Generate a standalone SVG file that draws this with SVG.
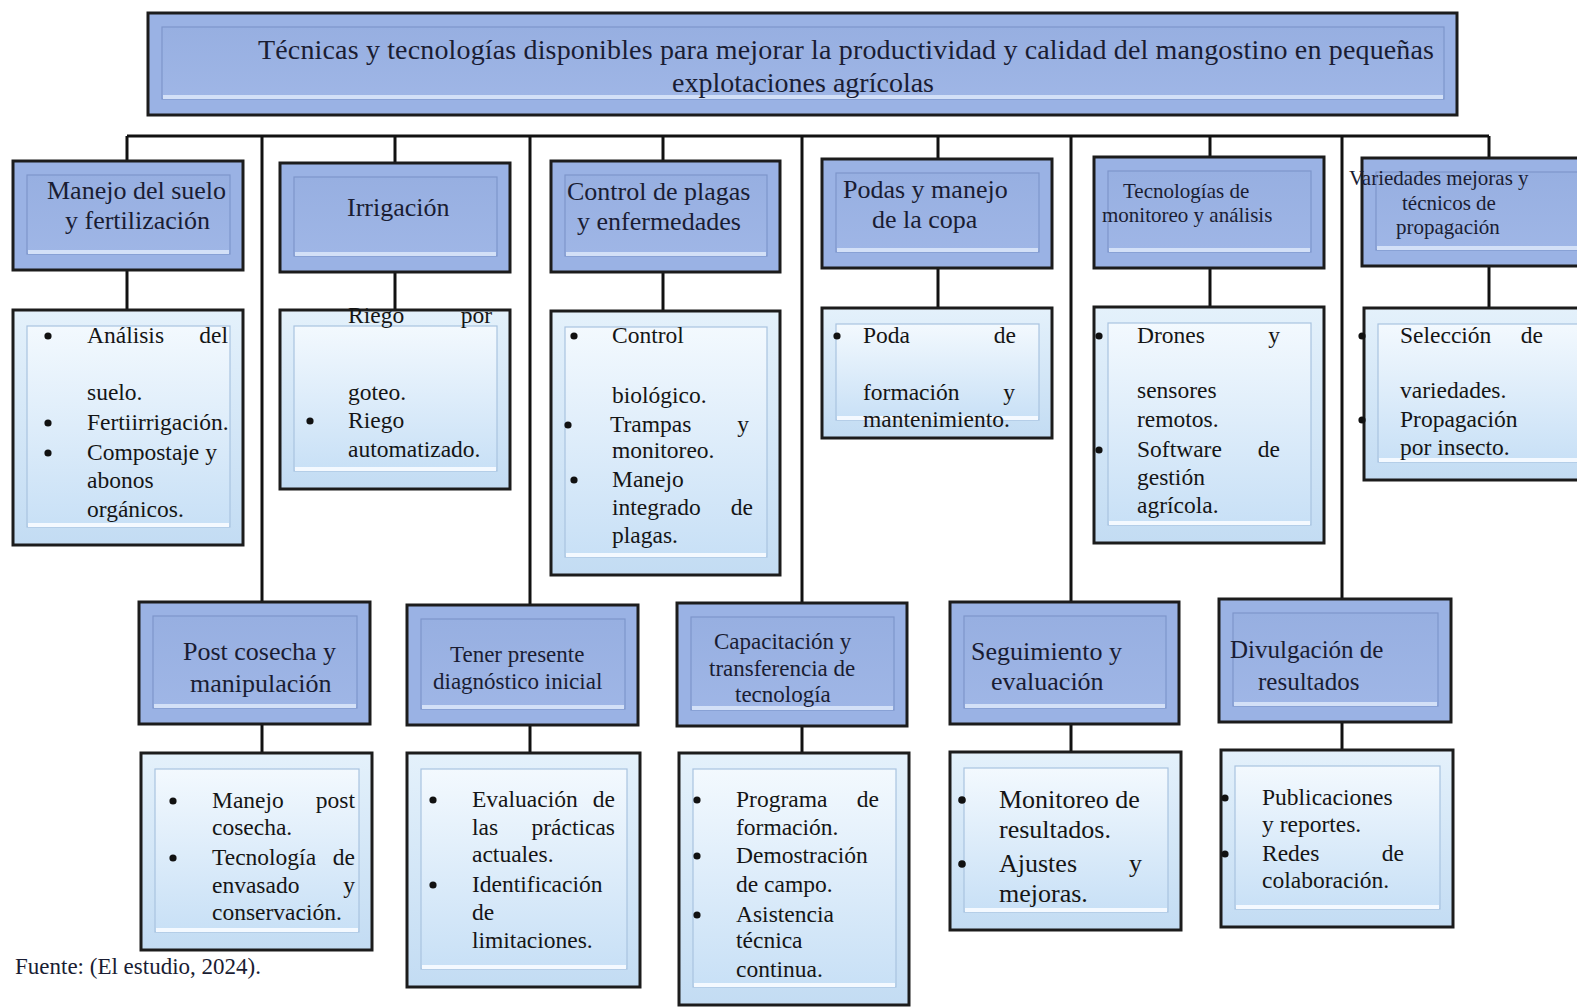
<svg xmlns="http://www.w3.org/2000/svg" width="1577" height="1007" viewBox="0 0 1577 1007">
<defs>
<linearGradient id="hdG" x1="0" y1="0" x2="0" y2="1">
<stop offset="0" stop-color="#97afe1"/>
<stop offset="1" stop-color="#9fb6e6"/>
</linearGradient>
<linearGradient id="dtG" x1="0" y1="0" x2="0" y2="1">
<stop offset="0" stop-color="#f3f9fe"/>
<stop offset="1" stop-color="#c8e0f6"/>
</linearGradient>
<linearGradient id="dtO" x1="0" y1="0" x2="0" y2="1">
<stop offset="0" stop-color="#e4f1fb"/>
<stop offset="1" stop-color="#c3dcf3"/>
</linearGradient>
<style>
.hdo{fill:#9ab2e4;stroke:#1c1c1c;stroke-width:3}
.hdi{fill:url(#hdG);stroke:#7e96cb;stroke-width:1.2}
.hl{stroke:#d3e0f7;stroke-width:4}
.dto{fill:url(#dtO);stroke:#1c1c1c;stroke-width:3}
.dti{fill:url(#dtG);stroke:#a9c3e0;stroke-width:1.2}
.dhl{stroke:#f4f9ff;stroke-width:4}
.cn{stroke:#111;stroke-width:3;fill:none}
.bu{fill:#111}
text{font-family:"Liberation Serif","Times New Roman",serif;fill:#1a1d33}
.h26{font-size:26px}
.h25{font-size:25px}
.h23{font-size:23px}
.h21{font-size:21px}
.d{font-size:23.5px;fill:#151515}
.d26{font-size:26px;fill:#151515}
.e{text-anchor:end}
</style>
</defs>
<rect width="1577" height="1007" fill="#ffffff"/>

<g id="connectors">
<line class="cn" x1="127" y1="136" x2="1489" y2="136"/>
<line class="cn" x1="127" y1="136" x2="127" y2="161"/>
<line class="cn" x1="395" y1="136" x2="395" y2="163"/>
<line class="cn" x1="663" y1="136" x2="663" y2="161"/>
<line class="cn" x1="938" y1="136" x2="938" y2="159"/>
<line class="cn" x1="1210" y1="136" x2="1210" y2="157"/>
<line class="cn" x1="1489" y1="136" x2="1489" y2="158"/>
<line class="cn" x1="127" y1="270" x2="127" y2="310"/>
<line class="cn" x1="395" y1="272" x2="395" y2="310"/>
<line class="cn" x1="663" y1="272" x2="663" y2="311"/>
<line class="cn" x1="938" y1="268" x2="938" y2="308"/>
<line class="cn" x1="1210" y1="268" x2="1210" y2="307"/>
<line class="cn" x1="1489" y1="266" x2="1489" y2="308"/>
<line class="cn" x1="262" y1="136" x2="262" y2="602"/>
<line class="cn" x1="530" y1="136" x2="530" y2="605"/>
<line class="cn" x1="802" y1="136" x2="802" y2="603"/>
<line class="cn" x1="1071" y1="136" x2="1071" y2="602"/>
<line class="cn" x1="1342" y1="136" x2="1342" y2="599"/>
<line class="cn" x1="262" y1="724" x2="262" y2="753"/>
<line class="cn" x1="530" y1="725" x2="530" y2="753"/>
<line class="cn" x1="802" y1="726" x2="802" y2="753"/>
<line class="cn" x1="1071" y1="724" x2="1071" y2="752"/>
<line class="cn" x1="1342" y1="722" x2="1342" y2="750"/>
</g>

<g id="title">
<rect class="hdo" x="148" y="13" width="1309" height="102"/>
<rect class="hdi" x="162" y="27" width="1282" height="72"/>
<line class="hl" x1="163" y1="97" x2="1443" y2="97"/>
<text x="258" y="59" font-size="28" textLength="1176" lengthAdjust="spacing">Técnicas  y tecnologías disponibles para mejorar  la productividad y calidad del mangostino  en pequeñas</text>
<text x="803" y="92" font-size="28" text-anchor="middle">explotaciones agrícolas</text>
</g>

<g id="n-suelo">
<rect class="hdo" x="13" y="161" width="230" height="109"/>
<rect class="hdi" x="27" y="175" width="203" height="79"/>
<line class="hl" x1="28" y1="252" x2="229" y2="252"/>
<text class="h26" x="47" y="199">Manejo del suelo</text>
<text class="h26" x="65" y="229">y fertilización</text>
</g>
<g id="n-suelo-d">
<rect class="dto" x="13" y="310" width="230" height="235"/>
<rect class="dti" x="27" y="326" width="203" height="201"/>
<line class="dhl" x1="28" y1="525" x2="229" y2="525"/>
<circle class="bu" cx="48" cy="336" r="3.6"/>
<circle class="bu" cx="48" cy="423" r="3.6"/>
<circle class="bu" cx="48" cy="453" r="3.6"/>
<text class="d" x="87" y="343">Análisis</text>
<text class="d e" x="228" y="343">del</text>
<text class="d" x="87" y="400">suelo.</text>
<text class="d" x="87" y="430">Fertiirrigación.</text>
<text class="d" x="87" y="460">Compostaje y</text>
<text class="d" x="87" y="488">abonos</text>
<text class="d" x="87" y="517">orgánicos.</text>
</g>

<g id="n-irrigacion">
<rect class="hdo" x="280" y="163" width="230" height="109"/>
<rect class="hdi" x="294" y="177" width="203" height="79"/>
<line class="hl" x1="295" y1="254" x2="496" y2="254"/>
<text class="h26" x="347" y="216">Irrigación</text>
</g>
<g id="n-irrigacion-d">
<rect class="dto" x="280" y="310" width="230" height="179"/>
<rect class="dti" x="294" y="326" width="203" height="145"/>
<line class="dhl" x1="295" y1="469" x2="496" y2="469"/>
<circle class="bu" cx="310" cy="421" r="3.6"/>
<text class="d" x="348" y="323">Riego</text>
<text class="d e" x="492" y="323">por</text>
<text class="d" x="348" y="400">goteo.</text>
<text class="d" x="348" y="428">Riego</text>
<text class="d" x="348" y="457">automatizado.</text>
</g>

<g id="n-plagas">
<rect class="hdo" x="551" y="161" width="229" height="111"/>
<rect class="hdi" x="565" y="175" width="202" height="81"/>
<line class="hl" x1="566" y1="254" x2="766" y2="254"/>
<text class="h26" x="567" y="200">Control de plagas</text>
<text class="h26" x="577" y="230">y enfermedades</text>
</g>
<g id="n-plagas-d">
<rect class="dto" x="551" y="311" width="229" height="264"/>
<rect class="dti" x="565" y="327" width="202" height="230"/>
<line class="dhl" x1="566" y1="555" x2="766" y2="555"/>
<circle class="bu" cx="574" cy="336" r="3.6"/>
<circle class="bu" cx="568" cy="425" r="3.6"/>
<circle class="bu" cx="574" cy="480" r="3.6"/>
<text class="d" x="612" y="343">Control</text>
<text class="d" x="612" y="403">biológico.</text>
<text class="d" x="610" y="432">Trampas</text>
<text class="d e" x="749" y="432">y</text>
<text class="d" x="612" y="458">monitoreo.</text>
<text class="d" x="612" y="487">Manejo</text>
<text class="d" x="612" y="515">integrado</text>
<text class="d e" x="753" y="515">de</text>
<text class="d" x="612" y="543">plagas.</text>
</g>

<g id="n-podas">
<rect class="hdo" x="822" y="159" width="230" height="109"/>
<rect class="hdi" x="836" y="173" width="203" height="79"/>
<line class="hl" x1="837" y1="250" x2="1038" y2="250"/>
<text class="h26" x="843" y="198">Podas y manejo</text>
<text class="h26" x="872" y="228">de la copa</text>
</g>
<g id="n-podas-d">
<rect class="dto" x="822" y="308" width="230" height="130"/>
<rect class="dti" x="836" y="324" width="203" height="96"/>
<line class="dhl" x1="837" y1="418" x2="1038" y2="418"/>
<circle class="bu" cx="837" cy="336" r="3.6"/>
<text class="d" x="863" y="343">Poda</text>
<text class="d e" x="1016" y="343">de</text>
<text class="d" x="863" y="400">formación</text>
<text class="d e" x="1015" y="400">y</text>
<text class="d" x="863" y="427">mantenimiento.</text>
</g>

<g id="n-monitoreo">
<rect class="hdo" x="1094" y="157" width="230" height="111"/>
<rect class="hdi" x="1108" y="171" width="203" height="81"/>
<line class="hl" x1="1109" y1="250" x2="1310" y2="250"/>
<text class="h21" x="1123" y="198">Tecnologías de</text>
<text class="h21" x="1102" y="222">monitoreo y análisis</text>
</g>
<g id="n-monitoreo-d">
<rect class="dto" x="1094" y="307" width="230" height="236"/>
<rect class="dti" x="1108" y="323" width="203" height="202"/>
<line class="dhl" x1="1109" y1="523" x2="1310" y2="523"/>
<circle class="bu" cx="1099" cy="336" r="3.6"/>
<circle class="bu" cx="1099" cy="450" r="3.6"/>
<text class="d" x="1137" y="343">Drones</text>
<text class="d e" x="1280" y="343">y</text>
<text class="d" x="1137" y="398">sensores</text>
<text class="d" x="1137" y="427">remotos.</text>
<text class="d" x="1137" y="457">Software</text>
<text class="d e" x="1280" y="457">de</text>
<text class="d" x="1137" y="485">gestión</text>
<text class="d" x="1137" y="513">agrícola.</text>
</g>

<g id="n-variedades">
<rect class="hdo" x="1362" y="158" width="230" height="108"/>
<rect class="hdi" x="1376" y="172" width="203" height="78"/>
<line class="hl" x1="1377" y1="248" x2="1578" y2="248"/>
<text class="h21" x="1349" y="185">Variedades mejoras y</text>
<text class="h21" x="1402" y="210">técnicos de</text>
<text class="h21" x="1396" y="234">propagación</text>
</g>
<g id="n-variedades-d">
<rect class="dto" x="1364" y="308" width="230" height="172"/>
<rect class="dti" x="1378" y="324" width="203" height="138"/>
<line class="dhl" x1="1379" y1="460" x2="1580" y2="460"/>
<circle class="bu" cx="1362" cy="336" r="3.6"/>
<circle class="bu" cx="1362" cy="420" r="3.6"/>
<text class="d" x="1400" y="343">Selección</text>
<text class="d e" x="1543" y="343">de</text>
<text class="d" x="1400" y="398">variedades.</text>
<text class="d" x="1400" y="427">Propagación</text>
<text class="d" x="1400" y="455">por insecto.</text>
</g>

<g id="n-postcosecha">
<rect class="hdo" x="139" y="602" width="231" height="122"/>
<rect class="hdi" x="153" y="616" width="204" height="92"/>
<line class="hl" x1="154" y1="706" x2="356" y2="706"/>
<text class="h26" x="183" y="660">Post cosecha y</text>
<text class="h26" x="190" y="692">manipulación</text>
</g>
<g id="n-postcosecha-d">
<rect class="dto" x="141" y="753" width="231" height="197"/>
<rect class="dti" x="155" y="769" width="204" height="163"/>
<line class="dhl" x1="156" y1="930" x2="358" y2="930"/>
<circle class="bu" cx="173" cy="801" r="3.6"/>
<circle class="bu" cx="173" cy="858" r="3.6"/>
<text class="d" x="212" y="808">Manejo</text>
<text class="d e" x="355" y="808">post</text>
<text class="d" x="212" y="835">cosecha.</text>
<text class="d" x="212" y="865">Tecnología</text>
<text class="d e" x="355" y="865">de</text>
<text class="d" x="212" y="893">envasado</text>
<text class="d e" x="355" y="893">y</text>
<text class="d" x="212" y="920">conservación.</text>
</g>

<g id="n-diagnostico">
<rect class="hdo" x="407" y="605" width="231" height="120"/>
<rect class="hdi" x="421" y="619" width="204" height="90"/>
<line class="hl" x1="422" y1="707" x2="624" y2="707"/>
<text class="h23" x="450" y="662">Tener presente</text>
<text class="h23" x="433" y="689">diagnóstico inicial</text>
</g>
<g id="n-diagnostico-d">
<rect class="dto" x="407" y="753" width="233" height="234"/>
<rect class="dti" x="421" y="769" width="206" height="200"/>
<line class="dhl" x1="422" y1="967" x2="626" y2="967"/>
<circle class="bu" cx="433" cy="800" r="3.6"/>
<circle class="bu" cx="433" cy="885" r="3.6"/>
<text class="d" x="472" y="807">Evaluación</text>
<text class="d e" x="615" y="807">de</text>
<text class="d" x="472" y="835">las</text>
<text class="d e" x="615" y="835">prácticas</text>
<text class="d" x="472" y="862">actuales.</text>
<text class="d" x="472" y="892">Identificación</text>
<text class="d" x="472" y="920">de</text>
<text class="d" x="472" y="948">limitaciones.</text>
</g>

<g id="n-capacitacion">
<rect class="hdo" x="677" y="603" width="230" height="123"/>
<rect class="hdi" x="691" y="617" width="203" height="93"/>
<line class="hl" x1="692" y1="708" x2="893" y2="708"/>
<text class="h23" x="714" y="649">Capacitación y</text>
<text class="h23" x="709" y="676">transferencia de</text>
<text class="h23" x="735" y="702">tecnología</text>
</g>
<g id="n-capacitacion-d">
<rect class="dto" x="679" y="753" width="230" height="252"/>
<rect class="dti" x="693" y="769" width="203" height="218"/>
<line class="dhl" x1="694" y1="985" x2="895" y2="985"/>
<circle class="bu" cx="697" cy="800" r="3.6"/>
<circle class="bu" cx="697" cy="856" r="3.6"/>
<circle class="bu" cx="697" cy="915" r="3.6"/>
<text class="d" x="736" y="807">Programa</text>
<text class="d e" x="879" y="807">de</text>
<text class="d" x="736" y="835">formación.</text>
<text class="d" x="736" y="863">Demostración</text>
<text class="d" x="736" y="892">de campo.</text>
<text class="d" x="736" y="922">Asistencia</text>
<text class="d" x="736" y="948">técnica</text>
<text class="d" x="736" y="977">continua.</text>
</g>

<g id="n-seguimiento">
<rect class="hdo" x="950" y="602" width="229" height="122"/>
<rect class="hdi" x="964" y="616" width="202" height="92"/>
<line class="hl" x1="965" y1="706" x2="1165" y2="706"/>
<text class="h26" x="971" y="660">Seguimiento y</text>
<text class="h26" x="991" y="690">evaluación</text>
</g>
<g id="n-seguimiento-d">
<rect class="dto" x="950" y="752" width="231" height="178"/>
<rect class="dti" x="964" y="768" width="204" height="144"/>
<line class="dhl" x1="965" y1="910" x2="1167" y2="910"/>
<circle class="bu" cx="962" cy="800" r="3.8"/>
<circle class="bu" cx="962" cy="864" r="3.8"/>
<text class="d26" x="999" y="808">Monitoreo de</text>
<text class="d26" x="999" y="838">resultados.</text>
<text class="d26" x="999" y="872">Ajustes</text>
<text class="d26 e" x="1142" y="872">y</text>
<text class="d26" x="999" y="902">mejoras.</text>
</g>

<g id="n-divulgacion">
<rect class="hdo" x="1219" y="599" width="232" height="123"/>
<rect class="hdi" x="1233" y="613" width="205" height="93"/>
<line class="hl" x1="1234" y1="704" x2="1437" y2="704"/>
<text class="h25" x="1230" y="658">Divulgación de</text>
<text class="h25" x="1258" y="690">resultados</text>
</g>
<g id="n-divulgacion-d">
<rect class="dto" x="1221" y="750" width="232" height="177"/>
<rect class="dti" x="1235" y="766" width="205" height="143"/>
<line class="dhl" x1="1236" y1="907" x2="1439" y2="907"/>
<circle class="bu" cx="1225" cy="798" r="3.6"/>
<circle class="bu" cx="1225" cy="854" r="3.6"/>
<text class="d" x="1262" y="805">Publicaciones</text>
<text class="d" x="1262" y="832">y reportes.</text>
<text class="d" x="1262" y="861">Redes</text>
<text class="d e" x="1404" y="861">de</text>
<text class="d" x="1262" y="888">colaboración.</text>
</g>

<text x="15" y="974" font-size="23" fill="#151515">Fuente: (El estudio, 2024).</text>
</svg>
